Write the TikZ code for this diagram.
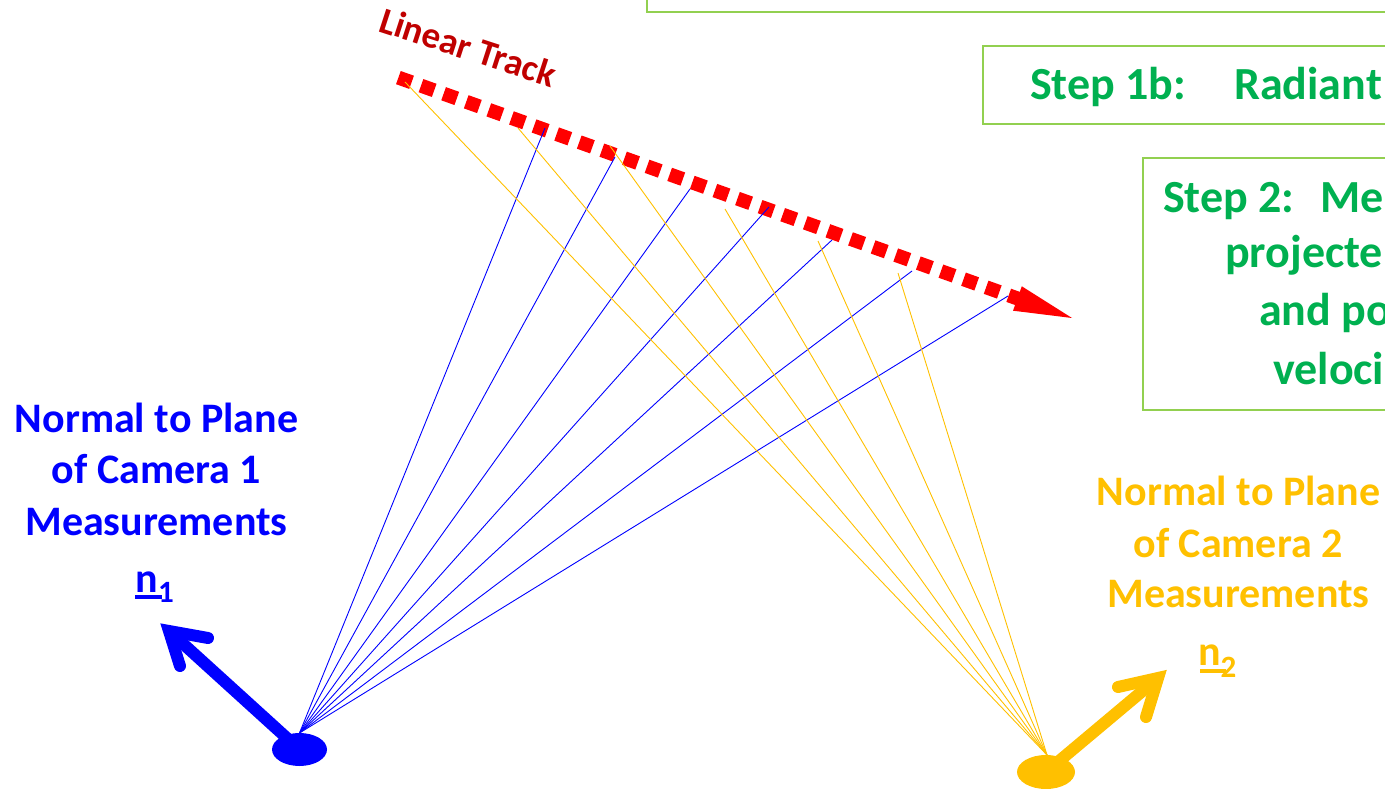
\documentclass[tikz,border=0pt]{standalone}
\usepackage{fontspec}
\setmainfont{Carlito}
\usetikzlibrary{shapes.geometric}
\definecolor{bblue}{HTML}{0000FF}
\definecolor{oorange}{HTML}{FFC000}
\definecolor{ggreen}{HTML}{00B050}
\definecolor{lgreen}{HTML}{92D050}
\definecolor{dred}{HTML}{C00000}
\definecolor{rred}{HTML}{FF0000}
\begin{document}
\begin{tikzpicture}[x=1pt,y=-1pt,
  stepframe/.style={draw=lgreen,line width=2.6pt},
  steptext/.style={text=ggreen,font=\fontsize{46}{55}\selectfont\bfseries,anchor=base west,inner sep=0pt},
  lab1/.style={text=bblue,font=\fontsize{42}{50}\selectfont\bfseries,anchor=base,inner sep=0pt},
  lab2/.style={lab1,text=oorange},
  ray1/.style={draw=bblue,line width=0.9pt},
  ray2/.style={draw=oorange,line width=0.9pt},
  normal/.style={line width=12pt},
  barb/.style={line width=12pt,line cap=round,line join=miter},
  track/.style={draw=rred,line width=14pt,dash pattern=on 14pt off 10pt},
  cam/.style={ellipse,inner sep=0pt}
]
\useasboundingbox (0,0) rectangle (1385,789);

% green frames
\draw[stepframe] (647,-60) rectangle (1460,12);
\draw[stepframe] (983,46) rectangle (1460,124);
\draw[stepframe] (1143,158) rectangle (1460,410);

\node[steptext] (s1) at (1030,100) {Step 1b:\hspace{48pt}Radiant};
\node[steptext] (s2a) at (1163,212) {Step 2:\hspace{26pt}Me};
\node[steptext] (s2b) at (1225,267) {projecte};
\node[steptext] (s2c) at (1259,325) {and po};
\node[steptext] (s2d) at (1273,384) {veloci};

% linear track
\coordinate (ts) at (398.4,77.6);
\coordinate (te) at (1019,299);
\coordinate (tt) at (1072,318);
\coordinate (hb1) at (1021.8,286.3);
\coordinate (hb2) at (1013.0,310.7);
\draw[track] (ts) -- (te);
\fill[rred] (tt) -- (hb1) -- (hb2) -- cycle;
\node[font=\fontsize{37}{42}\selectfont\bfseries,text=dred,rotate=-18,anchor=base west,inner sep=0pt] (lt) at (377,31) {Linear Track};

% cameras
\coordinate (c1) at (299.5,733);
\coordinate (c2) at (1047,755);
\foreach \n/\p in {b1/{545,128},b2/{615,157},b3/{690,189},b4/{769,207},b5/{832,240},b6/{912,271},b7/{1008,296}}
  \coordinate (\n) at (\p);
\foreach \n/\p in {o1/{405,82},o2/{518,128},o3/{610,146},o4/{725,209},o5/{818,241},o6/{898,273}}
  \coordinate (\n) at (\p);
\foreach \n in {b1,b2,b3,b4,b5,b6,b7} \draw[ray1] (c1) -- (\n);
\foreach \n in {o1,o2,o3,o4,o5,o6} \draw[ray2] (c2) -- (\n);

\node[cam,fill=bblue,minimum width=55pt,minimum height=33pt] (cam1) at (299.5,749.5) {};
\node[cam,fill=oorange,minimum width=58pt,minimum height=34pt] (cam2) at (1046,772) {};

% normals
\coordinate (v1) at (169,631);
\coordinate (a1) at (208,638);
\coordinate (a1b) at (180,666);
\draw[normal,bblue] (cam1.center) -- (v1);
\draw[barb,bblue] (a1) -- (v1) -- (a1b);

\coordinate (v2) at (1158,678);
\coordinate (a2) at (1118,687);
\coordinate (a2b) at (1146,717);
\draw[normal,oorange] (cam2.center) -- (v2);
\draw[barb,oorange] (a2) -- (v2) -- (a2b);

% labels
\node[lab1] (l1a) at (156.5,432) {Normal to Plane};
\node[lab1] (l1b) at (156.5,483.5) {of Camera 1};
\node[lab1] (l1c) at (156.5,535) {Measurements};
\node[lab1,anchor=base west] (n1) at (135.5,592) {n\raisebox{-10pt}{\fontsize{31}{31}\selectfont 1}};
\draw[bblue,line width=4pt] (135,597) -- (162,597);

\node[lab2] (l2a) at (1238.5,505) {Normal to Plane};
\node[lab2] (l2b) at (1238,557) {of Camera 2};
\node[lab2] (l2c) at (1238.5,607) {Measurements};
\node[lab2,anchor=base west] (n2) at (1198,665) {n\raisebox{-12pt}{\fontsize{31}{31}\selectfont 2}};
\draw[oorange,line width=4pt] (1200,671) -- (1226,671);
\end{tikzpicture}
\end{document}
